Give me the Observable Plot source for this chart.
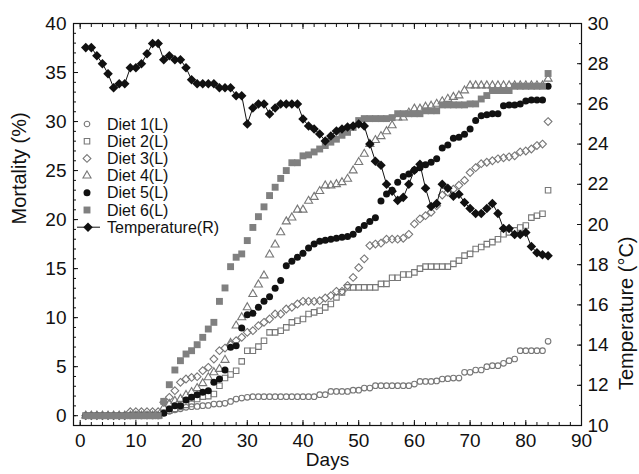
<!DOCTYPE html>
<html><head><meta charset="utf-8">
<script src="https://cdn.jsdelivr.net/npm/d3@7"></script>
<script src="https://cdn.jsdelivr.net/npm/@observablehq/plot@0.6"></script>
<style>
body{margin:0;background:#fff;}
#wrap{width:639px;height:474px;font-family:"Liberation Sans",Arial,Helvetica,sans-serif;}
</style></head><body><div id="wrap"></div>
<script>
// ---------- data ----------
const days = [1,2,3,4,5,6,7,8,9,10,11,12,13,14,15,16,17,18,19,20,21,22,23,24,25,26,27,28,29,30,31,32,33,34,35,36,37,38,39,40,41,42,43,44,45,46,47,48,49,50,51,52,53,54,55,56,57,58,59,60,61,62,63,64,65,66,67,68,69,70,71,72,73,74,75,76,77,78,79,80,81,82,83,84];

const diet1 = [0,0,0,0,0,0,0,0,0,0,0,0,0,0,
  0.3,0.45,0.6,0.7,0.85,0.92,0.95,1.02,1.05,1.19,1.2,1.26,1.46,1.7,1.8,1.87,
  1.94,1.94,1.94,1.94,1.94,1.94,1.94,1.94,1.94,1.94,1.94,1.94,2.14,2.14,2.48,2.48,2.48,2.48,2.6,2.6,
  2.82,2.82,3.06,3.06,3.06,3.06,3.06,3.06,3.06,3.23,3.5,3.5,3.5,3.55,3.74,3.78,3.84,3.84,4.42,4.42,
  4.66,4.66,5.0,5.1,5.1,5.34,5.61,5.78,6.63,6.63,6.63,6.63,6.63,7.58];

const diet2 = [0,0,0,0,0,0,0,0,0,0,0,0,0,0,
  0.3,0.5,0.7,0.9,1.1,1.19,1.7,1.94,2.0,2.21,3.06,3.84,4.2,4.59,5.54,6.63,
  6.63,7.04,7.65,8.5,8.5,8.67,9.01,9.52,9.69,9.86,10.37,10.54,10.71,11.05,11.39,12.07,12.58,13.09,13.09,13.09,
  13.09,13.09,13.09,13.44,13.44,14.07,14.07,14.4,14.4,14.62,15.0,15.2,15.2,15.2,15.2,15.2,15.48,15.82,16.33,16.5,
  17.0,17.2,17.5,17.7,18.0,18.5,18.7,18.9,19.2,19.4,20.2,20.4,20.6,23.0];

const diet3 = [0,0,0,0,0,0,0,0,0.4,0.4,0.4,0.4,0.4,0.4,
  1.36,1.87,2.55,3.4,3.74,3.9,3.98,4.59,4.93,5.78,6.63,6.9,7.24,7.65,7.99,8.5,
  8.67,9.18,9.52,9.86,10.37,10.37,10.88,11.05,11.39,11.66,11.66,11.66,11.73,12.0,12.24,12.68,12.68,13.27,14.1,15.1,
  16.0,17.35,17.5,17.6,18.0,18.0,18.0,18.1,18.5,19.56,20.07,20.4,20.75,21.4,22.5,22.8,23.1,23.5,24.0,24.8,
  25.3,25.7,25.85,26.0,26.2,26.3,26.4,26.5,26.9,27.0,27.2,27.55,27.7,30.0];

const diet4 = [0,0,0,0,0,0,0,0,0,0,0,0,0,0,
  0.8,1.2,1.5,1.7,2.1,2.4,2.8,3.3,3.9,4.42,4.76,5.68,7.4,9.18,10.03,11.05,
  12.4,13.37,14.29,16.43,17.45,18.7,19.8,20.2,21.0,21.0,21.9,22.3,22.9,23.47,23.47,23.6,23.8,24.15,25.0,25.85,
  26.7,27.7,28.1,28.5,29.0,29.6,30.4,30.4,30.9,31.3,31.3,31.5,31.6,31.8,32.05,32.3,32.5,32.65,33.16,33.67,
  33.67,33.67,33.67,33.67,33.67,33.67,33.67,33.67,33.67,33.67,33.67,33.67,33.67,34.36];

const diet5 = [0,0,0,0,0,0,0,0,0,0,0,0,0,0,
  0.24,0.68,1.02,1.02,1.6,1.87,2.14,2.38,2.55,3.4,3.74,4.66,6.97,7.14,8.95,10.3,
  10.44,11.05,11.66,12.14,13.0,13.8,15.3,15.75,16.16,16.56,17.1,17.5,17.8,17.9,18.0,18.1,18.2,18.27,18.5,19.0,
  19.4,19.8,20.2,21.9,22.6,23.0,23.8,24.4,24.66,25.07,25.3,25.6,25.85,26.2,27.3,27.6,28.3,28.4,28.7,29.25,
  30.1,30.6,30.7,30.8,30.8,31.6,31.7,31.7,31.8,32.1,32.2,32.2,32.2,33.6];

const diet6 = [0,0,0,0,0,0,0,0,0,0,0,0,0,0,
  1.46,3.16,4.66,5.61,6.29,6.63,7.24,7.99,8.84,9.52,11.66,13.03,15.2,16.16,16.5,17.86,
  19.2,20.3,21.3,22.45,23.3,24.2,25.0,25.8,25.8,26.5,26.6,26.9,27.2,27.55,27.9,28.2,28.6,28.9,29.4,30.1,
  30.3,30.3,30.3,30.3,30.3,30.4,30.8,30.8,30.8,30.8,30.8,31.1,31.1,31.1,31.7,31.7,31.7,31.7,31.7,31.8,
  31.8,32.3,32.65,33.16,33.16,33.16,33.16,33.6,33.6,33.6,33.6,33.6,33.6,34.9];

const temperature = [28.8,28.8,28.4,28.0,27.5,26.8,27.0,27.0,27.8,27.8,28.0,28.5,29.0,29.0,
  28.2,28.4,28.2,28.2,27.8,27.2,27.0,27.0,27.0,27.0,26.8,26.8,26.8,26.4,26.4,25.0,
  25.8,26.0,26.0,25.5,25.8,26.0,26.0,26.0,26.0,25.25,24.9,24.75,24.5,24.15,24.4,24.65,24.75,24.85,24.9,25.0,
  24.9,24.0,23.15,22.95,22.0,21.65,21.2,21.35,22.0,22.7,23.0,21.8,20.9,21.05,22.0,21.8,21.4,21.5,21.1,20.8,
  20.55,20.55,20.8,21.05,20.55,19.8,19.8,19.5,19.5,19.6,18.9,18.6,18.5,18.45];

const xTicks = [0,10,20,30,40,50,60,70,80,90];
const xMinorTicks = [0,2,4,6,8,10,12,14,16,18,20,22,24,26,28,30,32,34,36,38,40,42,44,46,48,50,52,54,56,58,60,62,64,66,68,70,72,74,76,78,80,82,84,86,88,90];
const yTicks = [0,5,10,15,20,25,30,35,40];
const yMinorTicks = [-1,0,1,2,3,4,5,6,7,8,9,10,11,12,13,14,15,16,17,18,19,20,21,22,23,24,25,26,27,28,29,30,31,32,33,34,35,36,37,38,39,40];
const tTicks = [10,12,14,16,18,20,22,24,26,28,30];
const tMinorTicks = [10,11,12,13,14,15,16,17,18,19,20,21,22,23,24,25,26,27,28,29,30];
const seriesNames = ["Diet 1(L)","Diet 2(L)","Diet 3(L)","Diet 4(L)","Diet 5(L)","Diet 6(L)","Temperature(R)"];

// ---------- scales: right axis (10..30 °C) mapped onto left (-1..40 %) ----------
const yDomain = [-1, 40], tDomain = [10, 30];
const toM = t => yDomain[0] + (t - tDomain[0]) * (yDomain[1] - yDomain[0]) / (tDomain[1] - tDomain[0]);
const fromM = m => tDomain[0] + (m - yDomain[0]) * (tDomain[1] - tDomain[0]) / (yDomain[1] - yDomain[0]);

// custom symbols
const diamondSym = {draw(ctx, size) { const r = Math.sqrt(size / 2); ctx.moveTo(0, -r); ctx.lineTo(r, 0); ctx.lineTo(0, r); ctx.lineTo(-r, 0); ctx.closePath(); }};

const rows = vals => days.map((d, i) => ({day: d, v: vals[i]}));
const tRows = days.map((d, i) => ({day: d, v: toM(temperature[i])}));

const gray = "#777";
const styles = [
  {symbol: "circle", r: 2.8, fill: "none", stroke: gray, strokeWidth: 1.1},
  {symbol: "square", r: 3.1, fill: "none", stroke: gray, strokeWidth: 1.1},
  {symbol: diamondSym, r: 3.1, fill: "none", stroke: gray, strokeWidth: 1.1},
  {symbol: "triangle", r: 3.0, fill: "none", stroke: gray, strokeWidth: 1.1},
  {symbol: "circle", r: 3.5, fill: "#111", stroke: "none"},
  {symbol: "square", r: 3.9, fill: "#808080", stroke: "none"}
];
const dietData = [diet1, diet2, diet3, diet4, diet5, diet6];

const FONT = '"Liberation Sans", Arial, Helvetica, sans-serif';
const blank = () => "";
const chart = Plot.plot({
  width: 639, height: 474,
  marginLeft: 73, marginRight: 58, marginTop: 23, marginBottom: 49,
  style: {fontFamily: FONT, fontSize: "19px", color: "#111", background: "#fff"},
  x: {domain: [-1.2, 90], label: null},
  y: {domain: yDomain, label: null},
  marks: [
    // inward ticks (outward ticks shifted inside)
    Plot.axisX(xMinorTicks, {anchor: "bottom", tickSize: 3, dy: -3, tickFormat: blank, label: null}),
    Plot.axisX(xTicks, {anchor: "bottom", tickSize: 5, dy: -5, tickFormat: blank, label: null}),
    Plot.axisX(xMinorTicks, {anchor: "top", tickSize: 3, dy: 3, tickFormat: blank, label: null}),
    Plot.axisX(xTicks, {anchor: "top", tickSize: 5, dy: 5, tickFormat: blank, label: null}),
    Plot.axisY(yMinorTicks, {anchor: "left", tickSize: 3, dx: 3, tickFormat: blank, label: null}),
    Plot.axisY(yTicks, {anchor: "left", tickSize: 5, dx: 5, tickFormat: blank, label: null}),
    Plot.axisY(tMinorTicks.map(toM), {anchor: "right", tickSize: 3, dx: -3, tickFormat: blank, label: null}),
    Plot.axisY(tTicks.map(toM), {anchor: "right", tickSize: 5, dx: -5, tickFormat: blank, label: null}),
    // tick labels
    Plot.axisX(xTicks, {anchor: "bottom", tickSize: 0, tickPadding: 8, fontSize: 19, label: null}),
    Plot.axisY(yTicks, {anchor: "left", tickSize: 0, tickPadding: 7, fontSize: 19, label: null}),
    Plot.axisY(tTicks.map(toM), {anchor: "right", tickSize: 0, tickPadding: 6, fontSize: 19, label: null,
      tickFormat: m => String(Math.round(fromM(m)))}),
    Plot.frame({stroke: "#111", strokeWidth: 1.2}),
    // diets
    ...dietData.map((vals, i) => Plot.dot(rows(vals), {x: "day", y: "v", ...styles[i]})),
    // temperature
    Plot.line(tRows, {x: "day", y: "v", stroke: "#111", strokeWidth: 1}),
    Plot.dot(tRows, {x: "day", y: "v", symbol: diamondSym, r: 3.8, fill: "#111", stroke: "none"}),
    // axis titles
    Plot.text(["Days"], {frameAnchor: "bottom", dy: 40, fontSize: 19, fill: "#111"}),
    Plot.text(["Mortality (%)"], {frameAnchor: "left", dx: -54, rotate: -90, fontSize: 20, fill: "#111"}),
    Plot.text(["Temperature (°C)"], {frameAnchor: "right", dx: 45, dy: 12, rotate: -90, fontSize: 20, fill: "#111"})
  ]
});
document.getElementById("wrap").appendChild(chart);

// ---------- legend (inside plot, top-left) ----------
const svg = d3.select(chart);
const lg = svg.append("g").attr("font-family", FONT).attr("font-size", 16).attr("fill", "#111").attr("text-anchor", "start");
const symMap = {circle: d3.symbolCircle, square: d3.symbolSquare, triangle: d3.symbolTriangle};
seriesNames.forEach((name, i) => {
  const cy = 124 + i * 17.2;
  const g = lg.append("g");
  if (i < 6) {
    const st = styles[i];
    const type = typeof st.symbol === "string" ? symMap[st.symbol] : st.symbol;
    g.append("path")
      .attr("transform", `translate(87,${cy})`)
      .attr("d", d3.symbol(type, Math.PI * st.r * st.r)())
      .attr("fill", st.fill).attr("stroke", st.stroke).attr("stroke-width", st.strokeWidth || 0);
  } else {
    g.append("line").attr("x1", 77).attr("x2", 100).attr("y1", cy).attr("y2", cy).attr("stroke", "#111");
    g.append("path").attr("transform", `translate(88,${cy})`)
      .attr("d", d3.symbol(diamondSym, Math.PI * 3.8 * 3.8)()).attr("fill", "#111");
  }
  g.append("text").attr("x", 107).attr("y", cy).attr("dy", "0.35em").attr("text-anchor", "start").text(name);
});
</script></body></html>
